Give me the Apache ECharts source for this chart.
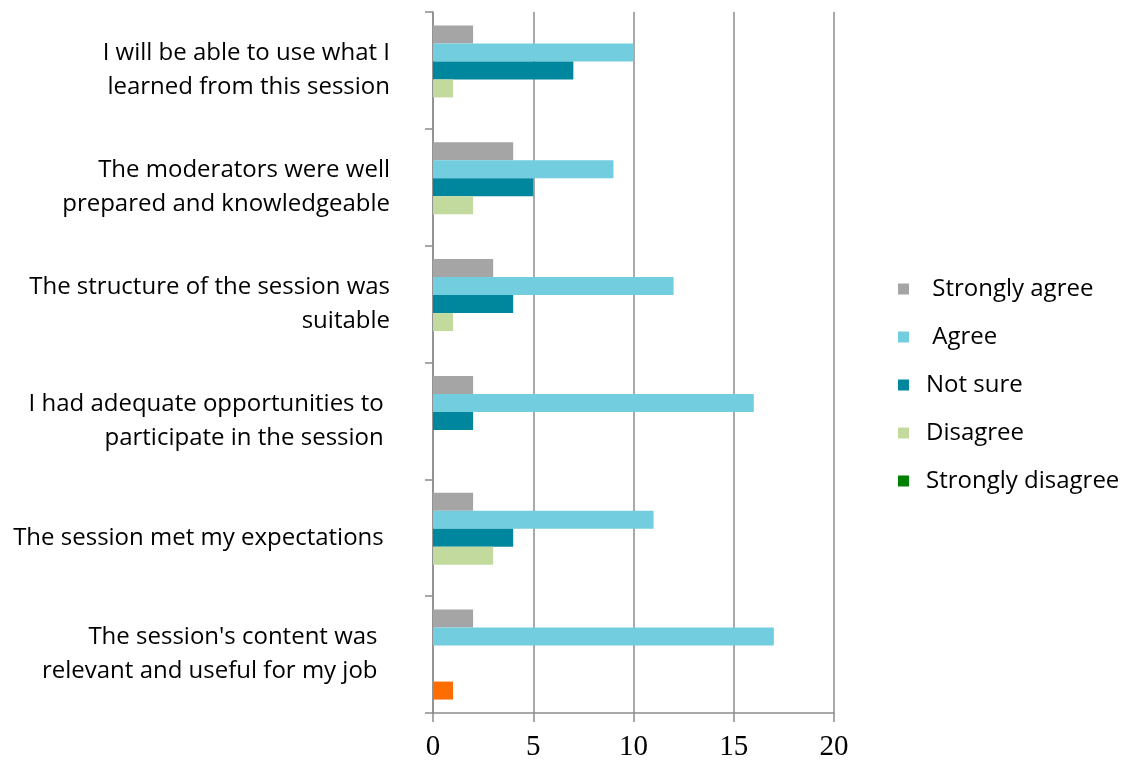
<!DOCTYPE html>
<html>
<head>
<meta charset="utf-8">
<script src="https://cdn.jsdelivr.net/npm/echarts@6/dist/echarts.min.js"></script>
<style>
html,body{margin:0;padding:0;background:#fff;}
#chart{width:1125px;height:762px;}
</style>
</head>
<body>
<div id="chart"></div>
<script>
// categories listed bottom to top (ECharts category y axis starts at bottom)
const categories = [
  "The session's content was\nrelevant and useful for my job",
  "The session met my expectations",
  "I had adequate opportunities to\nparticipate in the session",
  "The structure of the session was\nsuitable",
  "The moderators were well\nprepared and knowledgeable",
  "I will be able to use what I\nlearned from this session"
];
const seriesNames = ["Strongly agree", "Agree", "Not sure", "Disagree", "Strongly disagree"];
const stronglyAgree = [2, 2, 2, 3, 4, 2];
const agree = [17, 11, 16, 12, 9, 10];
const notSure = ['-', 4, 2, 4, 5, 7];
const disagree = ['-', 3, '-', 1, 2, 1];
const stronglyDisagree = [1, '-', '-', '-', '-', '-'];
const xTicks = [0, 5, 10, 15, 20];

const colors = ['#A5A5A5', '#72CDDE', '#00879E', '#C3DA9E', '#008000'];
const highlightColor = '#FF6D00';
// trailing-space count per category label (as in the original text)
const labelTrail = [2, 1, 1, 0, 0, 0];
// leading-space count per legend entry (as in the original text)
const legendLead = [1, 1, 0, 0, 0];

const values = [stronglyAgree, agree, notSure, disagree, stronglyDisagree];

const series = seriesNames.map((name, i) => ({
  name: name,
  type: 'bar',
  barGap: '0%',
  barCategoryGap: '23%',
  itemStyle: { color: colors[i] },
  data: values[i].map((v, j) => {
    if (i === 4 && j === 0) return { value: v, itemStyle: { color: highlightColor } };
    return v;
  })
}));

const chart = echarts.init(document.getElementById('chart'), null, { renderer: 'canvas' });
chart.setOption({
  animation: false,
  backgroundColor: '#fff',
  grid: { left: 433, right: 291, top: 12, bottom: 48, containLabel: false },
  legend: {
    orient: 'vertical',
    left: 893,
    top: 272,
    itemWidth: 11,
    itemHeight: 11,
    itemGap: 24,
    icon: 'rect',
    data: seriesNames,
    formatter: function (name) {
      return ' '.repeat(legendLead[seriesNames.indexOf(name)] || 0) + name;
    },
    textStyle: { fontFamily: 'Open Sans', fontSize: 24, color: '#000', padding: [0, 0, 0, 12] }
  },
  xAxis: {
    type: 'value',
    min: xTicks[0],
    max: xTicks[xTicks.length - 1],
    interval: 5,
    axisLine: { show: true, lineStyle: { color: '#8c8c8c', width: 1.5 } },
    axisTick: { show: true, length: 9, lineStyle: { color: '#8c8c8c', width: 1.5 } },
    splitLine: { show: true, lineStyle: { color: '#8c8c8c', width: 1.5 } },
    axisLabel: { fontFamily: 'Liberation Serif', fontSize: 29, color: '#000', margin: 20 }
  },
  yAxis: {
    type: 'category',
    data: categories,
    axisLine: { show: true, lineStyle: { color: '#8c8c8c', width: 1.5 } },
    axisTick: { show: true, length: 8, lineStyle: { color: '#8c8c8c', width: 1.5 } },
    splitLine: { show: false },
    axisLabel: {
      fontFamily: 'Open Sans', fontSize: 24, color: '#000', margin: 43,
      lineHeight: 34, align: 'right',
      formatter: function (val, idx) {
        const pad = ' '.repeat(labelTrail[idx] || 0);
        return val.split('\n').map(s => s + pad).join('\n');
      }
    }
  },
  series: series
});
</script>
</body>
</html>
